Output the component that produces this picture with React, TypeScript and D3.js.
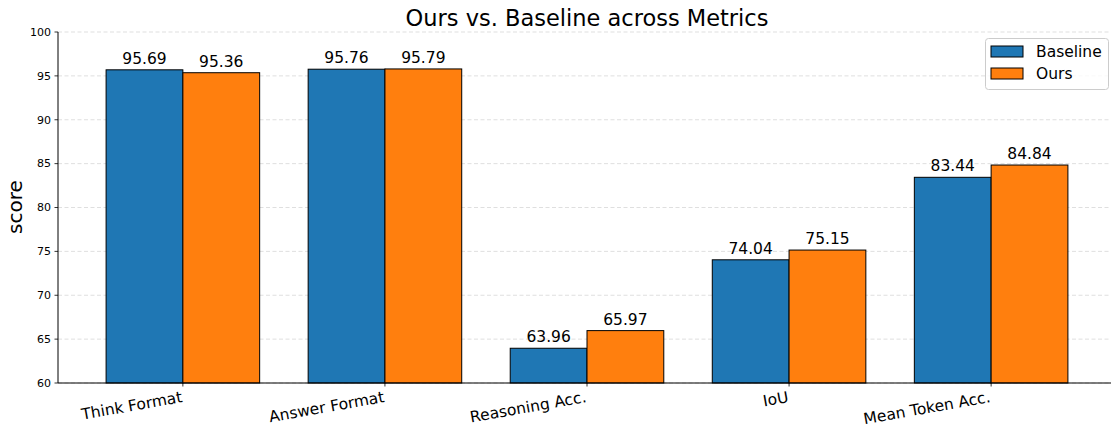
import React from 'react';
import * as d3 from 'd3';

const categories = ['Think Format', 'Answer Format', 'Reasoning Acc.', 'IoU', 'Mean Token Acc.'];
const baseline = [95.69, 95.76, 63.96, 74.04, 83.44];
const ours = [95.36, 95.79, 65.97, 75.15, 84.84];
const yTicks = [60, 65, 70, 75, 80, 85, 90, 95, 100];

const W = 1111;
const H = 427;
const font = 'DejaVu Sans, sans-serif';

const App: React.FC = () => {
  const x = d3.scaleLinear().domain([-0.618, 4.618]).range([58, 1116]);
  const y = d3.scaleLinear().domain([60, 100]).range([383, 32]);
  const bw = 0.38;

  const series = [
    { name: 'Baseline', values: baseline, color: '#1f77b4', off: -bw },
    { name: 'Ours', values: ours, color: '#ff7f0e', off: 0 },
  ];

  return (
    <svg width={W} height={H} style={{ position: 'absolute', left: 0, top: 0 }} fontFamily={font}>
      <defs>
        <clipPath id="plot">
          <rect x={58} y={0} width={W - 58} height={384} />
        </clipPath>
      </defs>
      <rect width={W} height={H} fill="#fff" />
      <text x={587} y={26} textAnchor="middle" fontSize={22.5} fill="#000">
        Ours vs. Baseline across Metrics
      </text>

      {/* grid */}
      {yTicks.map(t => (
        <line key={t} x1={58} x2={W} y1={y(t)} y2={y(t)} stroke="#b0b0b0" strokeOpacity={0.5}
          strokeDasharray="4,2.5" strokeWidth={0.8} />
      ))}

      <g clipPath="url(#plot)">
        {series.map(s => s.values.map((v, i) => (
          <rect key={s.name + i} x={x(i + s.off)} y={y(v)} width={x(bw) - x(0)} height={y(60) - y(v)}
            fill={s.color} stroke="#000" strokeWidth={1} />
        )))}
      </g>
      {series.map(s => s.values.map((v, i) => (
        <text key={'l' + s.name + i} x={x(i + s.off + bw / 2)} y={y(v) - 6} textAnchor="middle"
          fontSize={15.5} fill="#000">{v.toFixed(2)}</text>
      )))}

      {/* axes */}
      <line x1={58} x2={58} y1={32} y2={383} stroke="#000" strokeWidth={1} />
      <line x1={58} x2={W} y1={383} y2={383} stroke="#000" strokeWidth={1} />
      {yTicks.map(t => (
        <g key={'y' + t}>
          <line x1={54.5} x2={58} y1={y(t)} y2={y(t)} stroke="#000" strokeWidth={0.8} />
          <text x={51} y={y(t)} dy="0.35em" textAnchor="end" fontSize={11} fill="#000">{t}</text>
        </g>
      ))}
      {categories.map((c, i) => (
        <g key={c}>
          <line x1={x(i)} x2={x(i)} y1={383} y2={386.5} stroke="#000" strokeWidth={0.8} />
          <text transform={`translate(${x(i)},${402}) rotate(-10)`} textAnchor="end" fontSize={15.5} fill="#000">{c}</text>
        </g>
      ))}
      <text transform={`translate(22,207) rotate(-90)`} textAnchor="middle" fontSize={20} fill="#000">score</text>

      {/* legend */}
      <rect x={985.5} y={38.5} width={123} height={51} rx={3} fill="#fff" fillOpacity={0.8} stroke="#cccccc" strokeWidth={1} />
      {series.map((s, i) => (
        <g key={'lg' + s.name}>
          <rect x={991} y={46 + i * 22} width={32} height={11} fill={s.color} stroke="#000" strokeWidth={1} />
          <text x={1036} y={52 + i * 22} dy="0.35em" fontSize={15.5} fill="#000">{s.name}</text>
        </g>
      ))}
    </svg>
  );
};

export default App;
